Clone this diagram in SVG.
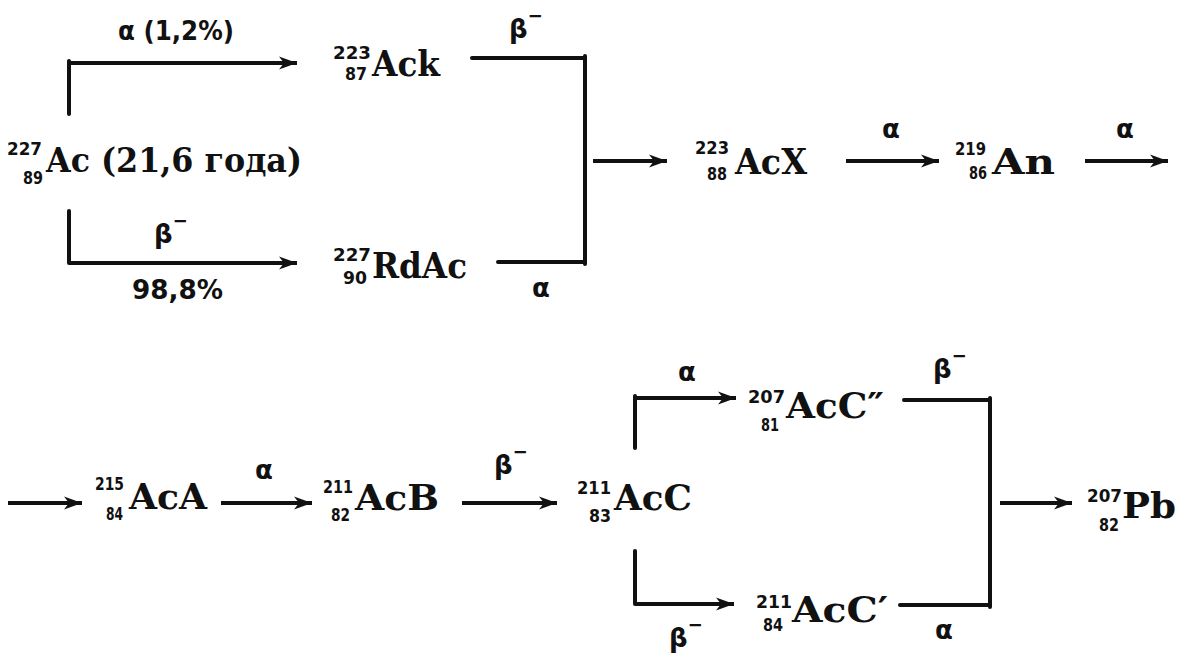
<svg xmlns="http://www.w3.org/2000/svg" width="1180" height="653" viewBox="0 0 1180 653">
<style>
.el{font-family:"DejaVu Serif","Liberation Serif",serif;font-weight:bold;font-size:36px;fill:#111}
.ac{font-size:33px}
.idx{font-family:"DejaVu Sans Condensed","DejaVu Sans",sans-serif;font-weight:bold;font-size:18px;fill:#111}
.lbl{font-family:"DejaVu Sans","Liberation Sans",sans-serif;font-weight:bold;font-size:26px;fill:#111}
.sm{font-size:18px}
.ln{stroke:#111;stroke-width:4;fill:none;stroke-linecap:round}
.ar{stroke:#111;stroke-width:4;fill:none;marker-end:url(#ah)}
</style>
<defs>
<marker id="ah" markerUnits="userSpaceOnUse" markerWidth="19" markerHeight="15" refX="18" refY="7.5" orient="auto">
<path d="M0,1 L18,7.5 L0,14 L5,7.5 Z" fill="#111"/>
</marker>
</defs>
<rect width="1180" height="653" fill="#fff"/>

<g id="connectors">
<line class="ln" x1="69" y1="61" x2="69" y2="114"/>
<line class="ar" x1="69" y1="63" x2="297" y2="63"/>
<line class="ln" x1="69" y1="211" x2="69" y2="263"/>
<line class="ar" x1="69" y1="263" x2="297" y2="263"/>
<line class="ln" x1="472" y1="58" x2="585" y2="58"/>
<line class="ln" x1="498" y1="262" x2="585" y2="262"/>
<line class="ln" x1="585" y1="56" x2="585" y2="264"/>
<line class="ar" x1="593" y1="161" x2="667" y2="161"/>
<line class="ar" x1="846" y1="161" x2="939" y2="161"/>
<line class="ar" x1="1085" y1="161" x2="1168" y2="161"/>
<line class="ar" x1="8" y1="503" x2="82" y2="503"/>
<line class="ar" x1="221" y1="503" x2="312" y2="503"/>
<line class="ar" x1="462" y1="503" x2="557" y2="503"/>
<line class="ln" x1="635" y1="396" x2="635" y2="448"/>
<line class="ar" x1="635" y1="398" x2="736" y2="398"/>
<line class="ln" x1="635" y1="551" x2="635" y2="604"/>
<line class="ar" x1="635" y1="604" x2="734" y2="604"/>
<line class="ln" x1="904" y1="400" x2="990" y2="400"/>
<line class="ln" x1="900" y1="605" x2="990" y2="605"/>
<line class="ln" x1="990" y1="398" x2="990" y2="607"/>
<line class="ar" x1="1000" y1="503" x2="1072" y2="503"/>
</g>

<g id="labels">
<text class="lbl" x="118" y="40" font-size="21" textLength="116" lengthAdjust="spacingAndGlyphs">α (1,2%)</text>
<text class="lbl" x="509" y="38">β<tspan class="sm" dy="-16">−</tspan></text>
<text class="lbl" x="154" y="243">β<tspan class="sm" dy="-16">−</tspan></text>
<text class="lbl" x="132" y="299" font-size="23" textLength="91" lengthAdjust="spacingAndGlyphs">98,8%</text>
<text class="lbl" x="532" y="297">α</text>
<text class="lbl" x="882" y="138">α</text>
<text class="lbl" x="1116" y="138">α</text>
<text class="lbl" x="255" y="479">α</text>
<text class="lbl" x="494" y="474">β<tspan class="sm" dy="-16">−</tspan></text>
<text class="lbl" x="678" y="381">α</text>
<text class="lbl" x="933" y="378">β<tspan class="sm" dy="-16">−</tspan></text>
<text class="lbl" x="669" y="647">β<tspan class="sm" dy="-16">−</tspan></text>
<text class="lbl" x="935" y="639">α</text>
</g>

<g id="n-ac227">
<text class="idx" x="7" y="155" textLength="35" lengthAdjust="spacingAndGlyphs">227</text>
<text class="idx" x="23" y="184" textLength="20" lengthAdjust="spacingAndGlyphs">89</text>
<text class="el ac" x="46" y="172" textLength="256" lengthAdjust="spacingAndGlyphs">Ac (21,6  года)</text>
</g>
<g id="n-ack">
<text class="idx" x="333" y="59" textLength="38" lengthAdjust="spacingAndGlyphs">223</text>
<text class="idx" x="345" y="80" textLength="22" lengthAdjust="spacingAndGlyphs">87</text>
<text class="el" x="372" y="76" textLength="68" lengthAdjust="spacingAndGlyphs">Ack</text>
</g>
<g id="n-rdac">
<text class="idx" x="333" y="261" textLength="38" lengthAdjust="spacingAndGlyphs">227</text>
<text class="idx" x="343" y="284" textLength="24" lengthAdjust="spacingAndGlyphs">90</text>
<text class="el" x="372" y="278" textLength="95" lengthAdjust="spacingAndGlyphs">RdAc</text>
</g>
<g id="n-acx">
<text class="idx" x="695" y="154" textLength="34" lengthAdjust="spacingAndGlyphs">223</text>
<text class="idx" x="707" y="180" textLength="20" lengthAdjust="spacingAndGlyphs">88</text>
<text class="el" x="735" y="174" textLength="72" lengthAdjust="spacingAndGlyphs">AcX</text>
</g>
<g id="n-an">
<text class="idx" x="955" y="155" textLength="31" lengthAdjust="spacingAndGlyphs">219</text>
<text class="idx" x="969" y="179" textLength="18" lengthAdjust="spacingAndGlyphs">86</text>
<text class="el" x="992" y="174" textLength="63" lengthAdjust="spacingAndGlyphs">An</text>
</g>
<g id="n-aca">
<text class="idx" x="95" y="490" textLength="29" lengthAdjust="spacingAndGlyphs">215</text>
<text class="idx" x="106" y="520" textLength="17" lengthAdjust="spacingAndGlyphs">84</text>
<text class="el" x="129" y="509" textLength="78" lengthAdjust="spacingAndGlyphs">AcA</text>
</g>
<g id="n-acb">
<text class="idx" x="323" y="493" textLength="30" lengthAdjust="spacingAndGlyphs">211</text>
<text class="idx" x="331" y="521" textLength="19" lengthAdjust="spacingAndGlyphs">82</text>
<text class="el" x="355" y="510" textLength="84" lengthAdjust="spacingAndGlyphs">AcB</text>
</g>
<g id="n-acc">
<text class="idx" x="577" y="494" textLength="34" lengthAdjust="spacingAndGlyphs">211</text>
<text class="idx" x="589" y="522" textLength="22" lengthAdjust="spacingAndGlyphs">83</text>
<text class="el" x="614" y="510" textLength="78" lengthAdjust="spacingAndGlyphs">AcC</text>
</g>
<g id="n-acc2">
<text class="idx" x="748" y="403" textLength="37" lengthAdjust="spacingAndGlyphs">207</text>
<text class="idx" x="761" y="431" textLength="18" lengthAdjust="spacingAndGlyphs">81</text>
<text class="el" x="786" y="418" textLength="98" lengthAdjust="spacingAndGlyphs">AcC″</text>
</g>
<g id="n-acc1">
<text class="idx" x="756" y="608" textLength="36" lengthAdjust="spacingAndGlyphs">211</text>
<text class="idx" x="763" y="631" textLength="20" lengthAdjust="spacingAndGlyphs">84</text>
<text class="el" x="792" y="622" textLength="96" lengthAdjust="spacingAndGlyphs">AcC′</text>
</g>
<g id="n-pb">
<text class="idx" x="1087" y="502" textLength="35" lengthAdjust="spacingAndGlyphs">207</text>
<text class="idx" x="1099" y="531" textLength="20" lengthAdjust="spacingAndGlyphs">82</text>
<text class="el" x="1122" y="518" textLength="54" lengthAdjust="spacingAndGlyphs">Pb</text>
</g>
</svg>
